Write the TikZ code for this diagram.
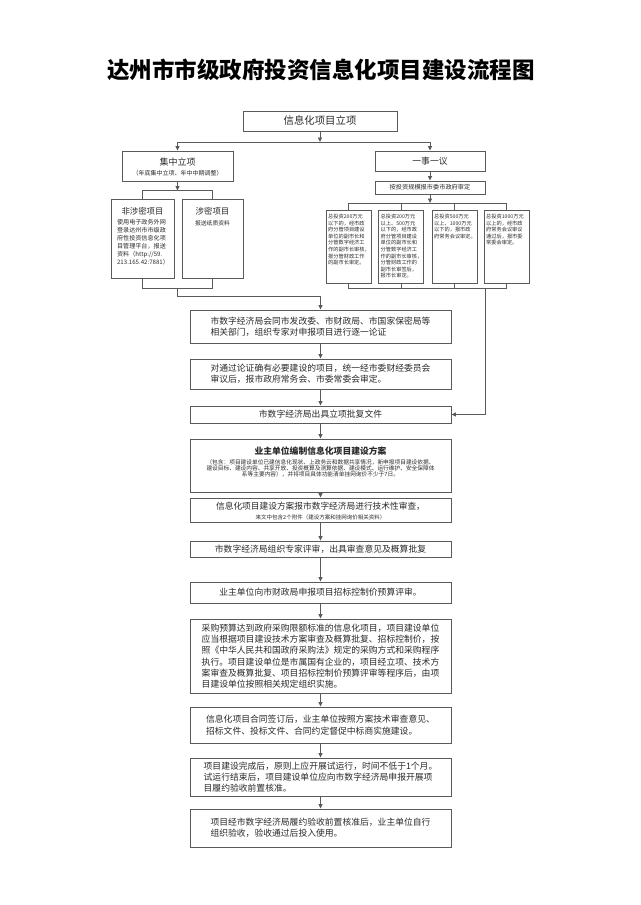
\documentclass[tikz,border=0pt]{standalone}
\usepackage{fontspec}
\setmainfont{Noto Sans CJK SC}
\usetikzlibrary{arrows.meta}
\definecolor{bordc}{HTML}{5A5A5A}
\definecolor{txtc}{HTML}{2A2A2A}
\tikzset{
  box/.style={draw=bordc, line width=0.9pt, inner sep=0pt, text=txtc},
  conn/.style={draw=bordc, line width=0.8pt},
  arr/.style={conn, -{Triangle[length=4.5pt,width=4pt]}},
  maintxt/.style={font=\fontsize{8.8}{11.3}\selectfont, align=left, text=txtc},
  tinytxt/.style={font=\fontsize{5.2}{6.6}\selectfont, align=left, text=txtc, inner sep=0pt, anchor=north west},
  plain/.style={text=txtc, inner sep=0pt},
}
\begin{document}
\begin{tikzpicture}[x=1pt,y=-1pt]
\useasboundingbox (0,0) rectangle (640,905);
\fill[white] (0,0) rectangle (640,905);

% title
\node[plain, text=black, font=\fontsize{22.5}{24}\selectfont\bfseries] (title) at (321,70) {达州市市级政府投资信息化项目建设流程图};

% top
\node[box, minimum width=154pt, minimum height=20pt, font=\fontsize{10.4}{12}\selectfont] (top) at (320,121) {信息化项目立项};

\node[box, minimum width=111pt, minimum height=30pt] (jz) at (177.5,166) {};
\node[plain, font=\fontsize{9}{10}\selectfont] (jzt) at (177.5,162) {集中立项};
\node[plain, font=\fontsize{6}{7}\selectfont] (jzs) at (177.5,173) {（年底集中立项、年中中期调整）};

\node[box, minimum width=110pt, minimum height=20pt, font=\fontsize{8.8}{10}\selectfont] (ys) at (430,161) {一事一议};
\node[box, minimum width=110pt, minimum height=13pt, font=\fontsize{6.2}{7}\selectfont] (tz) at (430,187.5) {按投资规模报市委市政府审定};

\coordinate (jt) at (320,142);
\coordinate (jtl) at (177.5,142);
\coordinate (jtr) at (430,142);
\draw[arr] (top.south) -- (jt);
\draw[conn] (jtl) -- (jtr);
\draw[arr] (jtl) -- (jz.north);
\draw[arr] (jtr) -- (ys.north);
\draw[arr] (ys.south) -- (tz.north);

% left branch
\node[box, minimum width=63pt, minimum height=79pt] (fs) at (142.5,238.5) {};
\node[box, minimum width=61pt, minimum height=79pt] (sm) at (212.5,238.5) {};
\node[plain, font=\fontsize{8.4}{9}\selectfont] (fst) at (142.5,211) {非涉密项目};
\node[plain, font=\fontsize{6.1}{7.9}\selectfont, align=left, anchor=north] (fsb) at (143,219.5) {使用电子政务外网\\登录达州市市级政\\府性投资信息化项\\目管理平台，报送\\资料（http://59.\\213.165.42:7881）};
\node[plain, font=\fontsize{8.4}{9}\selectfont] (smt) at (212.5,211) {涉密项目};
\node[plain, font=\fontsize{5.8}{7}\selectfont] (smb) at (212.5,223) {报送纸质资料};

\coordinate (jl) at (177.5,190.5);
\draw[arr] (jz.south) -- (jl);
\draw[conn] (fs.north) -- (fs.north |- jl) -- (sm.north |- jl) -- (sm.north);
\coordinate (jb) at (177.5,288);
\coordinate (jb2) at (177.5,296);
\draw[conn] (fs.south) -- (fs.south |- jb) -- (sm.south |- jb) -- (sm.south);

% right branch
\node[box, minimum width=45pt, minimum height=73pt] (r1) at (348.5,246.5) {};
\node[box, minimum width=45pt, minimum height=73pt] (r2) at (401,246.5) {};
\node[box, minimum width=45pt, minimum height=73pt] (r3) at (454.5,246.5) {};
\node[box, minimum width=45pt, minimum height=73pt] (r4) at (506.5,246.5) {};
\node[tinytxt] (r1t) at (328,214) {总投资200万元\\以下的，经市政\\府分管项目建设\\单位的副市长和\\分管数字经济工\\作的副市长审核，\\报分管财政工作\\的副市长审定。};
\node[tinytxt] (r2t) at (380.5,214) {总投资200万元\\以上、500万元\\以下的，经市政\\府分管项目建设\\单位的副市长和\\分管数字经济工\\作的副市长审核，\\分管财政工作的\\副市长审签后，\\报市长审定。};
\node[tinytxt] (r3t) at (434,214) {总投资500万元\\以上、1000万元\\以下的，报市政\\府常务会议审定。};
\node[tinytxt] (r4t) at (486,214) {总投资1000万元\\以上的，经市政\\府常务会议审议\\通过后，报市委\\常委会审定。};

\coordinate (jr) at (430,203);
\draw[arr] (tz.south) -- (jr);
\draw[conn] (r1.north) -- (r1.north |- jr) -- (r4.north |- jr) -- (r4.north);
\draw[conn] (r2.north) -- (r2.north |- jr);
\draw[conn] (r3.north) -- (r3.north |- jr);
\coordinate (jrb) at (485,288);
\draw[conn] (r1.south) -- (r1.south |- jrb) -- (r4.south |- jrb) -- (r4.south);
\draw[conn] (r2.south) -- (r2.south |- jrb);
\draw[conn] (r3.south) -- (r3.south |- jrb);

% main column
\node[box, maintxt, minimum width=261pt, minimum height=33pt] (A) at (320.5,326.5) {市数字经济局会同市发改委、市财政局、市国家保密局等\\相关部门，组织专家对申报项目进行逐一论证};
\node[box, maintxt, minimum width=261pt, minimum height=30pt] (B) at (320.5,374) {对通过论证确有必要建设的项目，统一经市委财经委员会\\审议后，报市政府常务会、市委常委会审定。};
\node[box, maintxt, minimum width=261pt, minimum height=17pt] (C) at (320.5,414.5) {市数字经济局出具立项批复文件};

\node[box, minimum width=261pt, minimum height=53pt] (P) at (320.5,465.5) {};
\node[plain, font=\fontsize{8.8}{10}\selectfont\bfseries] (Pt) at (320.5,451) {业主单位编制信息化项目建设方案};
\node[plain, font=\fontsize{5.7}{6.1}\selectfont, align=center] (Ps) at (320.5,468) {（包含：项目建设单位已建信息化现状、上政务云和数据共享情况，新申报项目建设依据、\\建设目标、建设内容、共享开放、投资概算及测算依据、建设模式、运行维护、安全保障体\\系等主要内容），并将项目具体功能清单挂网询价不少于7日。};

\node[box, minimum width=261pt, minimum height=24pt] (D) at (320.5,510) {};
\node[plain, font=\fontsize{8.7}{10}\selectfont] (Dt) at (320.5,506.5) {信息化项目建设方案报市数字经济局进行技术性审查，};
\node[plain, font=\fontsize{5.5}{6}\selectfont] (Ds) at (320.5,517) {来文中包含2个附件（建设方案和挂网询价相关资料）};

\node[box, maintxt, minimum width=261pt, minimum height=16pt] (E) at (320.5,549) {市数字经济局组织专家评审，出具审查意见及概算批复};
\node[box, maintxt, minimum width=261pt, minimum height=21pt] (F) at (320.5,592.5) {业主单位向市财政局申报项目招标控制价预算评审。};
\node[box, maintxt, minimum width=261pt, minimum height=74pt] (G) at (320.5,656) {采购预算达到政府采购限额标准的信息化项目，项目建设单位\\应当根据项目建设技术方案审查及概算批复、招标控制价，按\\照《中华人民共和国政府采购法》规定的采购方式和采购程序\\执行。项目建设单位是市属国有企业的，项目经立项、技术方\\案审查及概算批复、项目招标控制价预算评审等程序后，由项\\目建设单位按照相关规定组织实施。};
\node[box, maintxt, minimum width=261pt, minimum height=36pt] (H) at (320.5,725) {信息化项目合同签订后，业主单位按照方案技术审查意见、\\招标文件、投标文件、合同约定督促中标商实施建设。};
\node[box, maintxt, minimum width=261pt, minimum height=38pt] (I) at (320.5,777) {项目建设完成后，原则上应开展试运行，时间不低于1个月。\\试运行结束后，项目建设单位应向市数字经济局申报开展项\\目履约验收前置核准。};
\node[box, maintxt, minimum width=261pt, minimum height=38pt] (J) at (320.5,828) {项目经市数字经济局履约验收前置核准后，业主单位自行\\组织验收，验收通过后投入使用。};

\draw[arr] (jb) -- (jb2) -| (A.north);
\draw[arr] (jrb) |- (C.east);
\draw[arr] (A.south) -- (B.north);
\draw[arr] (B.south) -- (C.north);
\draw[arr] (C.south) -- (P.north);
\draw[arr] (P.south) -- (D.north);
\draw[arr] (D.south) -- (E.north);
\draw[arr] (E.south) -- (F.north);
\draw[arr] (F.south) -- (G.north);
\draw[arr] (G.south) -- (H.north);
\draw[arr] (H.south) -- (I.north);
\draw[arr] (I.south) -- (J.north);
\end{tikzpicture}
\end{document}
